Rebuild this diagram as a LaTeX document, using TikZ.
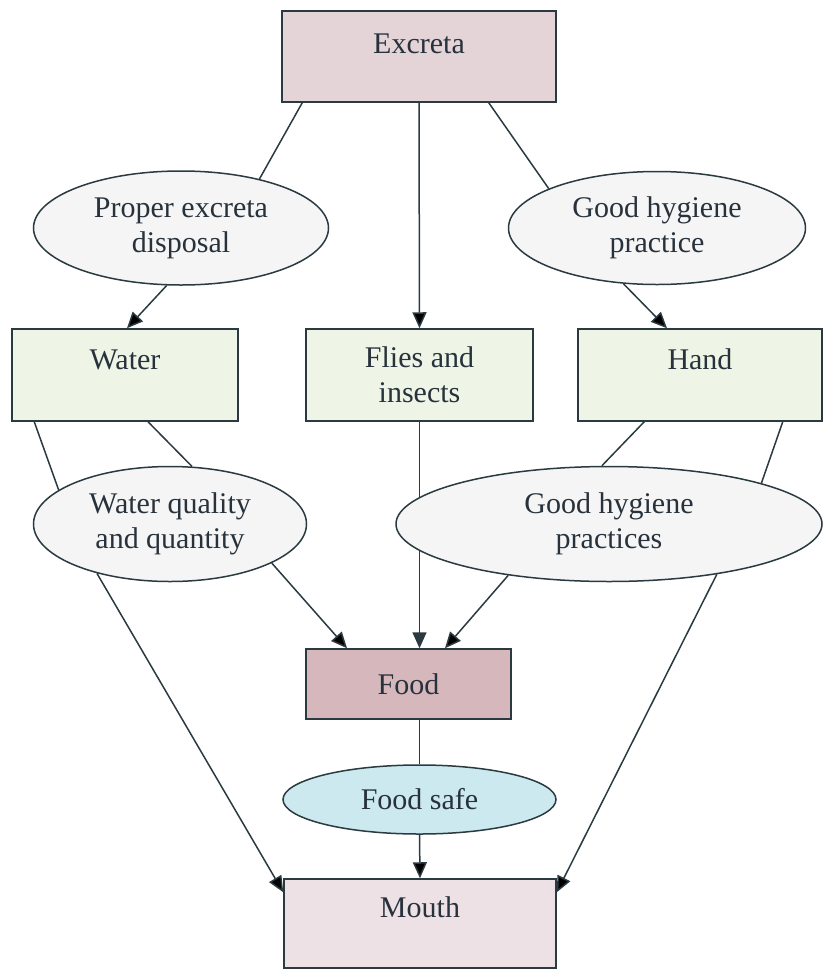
\documentclass[tikz,border=0pt]{standalone}
\usepackage{fontspec}
\setmainfont{Liberation Serif}
\usepackage{tikz}
\usetikzlibrary{shapes.geometric,arrows.meta}

\definecolor{ink}{RGB}{40,50,60}
\definecolor{edgecol}{RGB}{42,58,64}
\definecolor{excretafill}{RGB}{228,212,216}
\definecolor{foodfill}{RGB}{214,184,188}
\definecolor{mouthfill}{RGB}{238,225,229}
\definecolor{stagefill}{RGB}{238,245,230}
\definecolor{safefill}{RGB}{204,233,239}
\definecolor{ovalfill}{RGB}{245,245,245}

\begin{document}
\begin{tikzpicture}[x=0.5pt,y=-0.5pt,>={Triangle[length=8pt,width=7pt]},
    every node/.style={font=\fontsize{15}{17.5}\selectfont,text=ink},
    box/.style={draw=edgecol,rectangle,line width=0.75pt,inner sep=2pt},
    barrier/.style={draw=edgecol,ellipse,fill=ovalfill,line width=0.75pt,inner sep=0.5pt,align=center},
    raised/.style={text height=10pt,text depth=#1}]
    \useasboundingbox (0,0) rectangle (823,970);
    %boxes
    \node[box,fill=excretafill,minimum width=137pt,minimum height=45.5pt,raised=13pt] (excreta) at (419,56.5) {Excreta};
    \node[box,fill=stagefill,minimum width=113pt,minimum height=46pt,raised=15.5pt] (water) at (125,375) {Water};
    \node[box,fill=stagefill,minimum width=113.5pt,minimum height=46pt,align=center] (flies) at (419.5,375) {Flies and\\insects};
    \node[box,fill=stagefill,minimum width=122pt,minimum height=46pt,raised=15.5pt] (hand) at (700,375) {Hand};
    \node[box,fill=foodfill,minimum width=102.5pt,minimum height=35pt] (food) at (408.5,684) {Food};
    \node[box,fill=mouthfill,minimum width=136pt,minimum height=44.5pt,raised=16pt] (mouth) at (420,923.5) {Mouth};
    %flies to food runs behind the ellipse
    \draw[->,draw=edgecol,line width=0.75pt] (flies.south) -- (flies.south |- food.north);
    %barriers
    \node[barrier,minimum width=147.5pt,minimum height=57pt] (disposal) at (181,228) {Proper excreta\\disposal};
    \node[barrier,minimum width=148.5pt,minimum height=56.5pt] (hygiene) at (657,228) {Good hygiene\\practice};
    \node[barrier,minimum width=136.5pt,minimum height=57.5pt] (quality) at (170,524) {Water quality\\and quantity};
    \node[barrier,minimum width=213pt,minimum height=57.5pt] (practices) at (609,524) {Good hygiene\\practices};
    \node[barrier,fill=safefill,minimum width=136.5pt,minimum height=34.5pt] (safe) at (419.5,799.5) {Food safe};
    %edges
    \path[draw=edgecol,line width=0.75pt]
     ([xshift=10.5pt]excreta.south west) edge (disposal.32)
     (disposal.256) edge[->] ([xshift=1pt]water.north)
     (excreta.south) edge[->] (flies.north)
     ([xshift=-34pt]excreta.south east) edge (hygiene.160)
     (hygiene.239) edge[->] ([xshift=-16.5pt]hand.north)
     ([xshift=11.5pt]water.south west) edge (quality.163)
     ([xshift=11.5pt]water.south) edge (quality.69)
     (quality.-21) edge[->] ([xshift=-30.75pt]food.north)
     (quality.214) edge[->] ([yshift=-7pt]mouth.north west)
     ([xshift=33.5pt]hand.south west) edge (practices.97)
     ([xshift=-20pt]hand.south east) edge (practices.15)
     (practices.207) edge[->] ([xshift=18.25pt]food.north)
     (practices.-25) edge[->] ([yshift=-7pt]mouth.north east)
     (safe.north |- food.south) edge (safe.north)
     (safe.south) edge[->] (mouth.north);
\end{tikzpicture}
\end{document}
